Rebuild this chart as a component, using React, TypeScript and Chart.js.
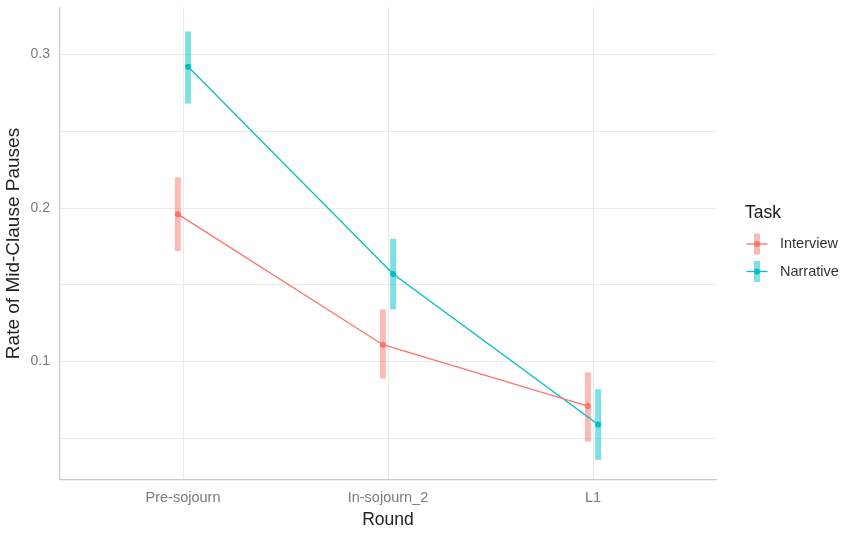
import React, { useEffect, useRef } from "react";
import { Chart, registerables } from "chart.js";
Chart.register(...registerables);

const rounds = ["Pre-sojourn", "In-sojourn_2", "L1"];
const tasks = ["Interview", "Narrative"];
const interviewMean = [0.196, 0.111, 0.071];
const interviewLower = [0.172, 0.089, 0.048];
const interviewUpper = [0.22, 0.134, 0.093];
const narrativeMean = [0.292, 0.157, 0.059];
const narrativeLower = [0.268, 0.134, 0.036];
const narrativeUpper = [0.315, 0.18, 0.082];
const yTicks = [0.05, 0.1, 0.15, 0.2, 0.25, 0.3];
const yLabeled = [0.1, 0.2, 0.3];

const colors = ["#F8766D", "#00BFC4"];
const barColors = ["rgba(248,118,109,0.5)", "rgba(0,191,196,0.5)"];
const dodge = 0.025;
const FONT = "'Liberation Sans', Arial, sans-serif";

const means = [interviewMean, narrativeMean];
const lowers = [interviewLower, narrativeLower];
const uppers = [interviewUpper, narrativeUpper];
const offsets = [-dodge, dodge];

const errorBarPlugin = {
  id: "errorBars",
  beforeDatasetsDraw(chart: any) {
    const ctx = chart.ctx;
    const xs = chart.scales.x;
    const ys = chart.scales.y;
    ctx.save();
    tasks.forEach((_, s) => {
      ctx.fillStyle = barColors[s];
      rounds.forEach((_, i) => {
        const x = xs.getPixelForValue(i + offsets[s]);
        const y1 = ys.getPixelForValue(uppers[s][i]);
        const y2 = ys.getPixelForValue(lowers[s][i]);
        ctx.fillRect(x - 3, y1, 6, y2 - y1);
      });
    });
    ctx.restore();
  },
};

const legendPlugin = {
  id: "ggLegend",
  afterDraw(chart: any) {
    const ctx = chart.ctx;
    ctx.save();
    ctx.fillStyle = "#1a1a1a";
    ctx.font = `17.5px ${FONT}`;
    ctx.textAlign = "left";
    ctx.textBaseline = "middle";
    ctx.fillText("Task", 745, 213);
    const ys = [244, 271.5];
    tasks.forEach((t, s) => {
      const cx = 757;
      const cy = ys[s];
      ctx.fillStyle = barColors[s];
      ctx.fillRect(cx - 3, cy - 10.5, 6, 21);
      ctx.strokeStyle = colors[s];
      ctx.lineWidth = 1.3;
      ctx.beginPath();
      ctx.moveTo(cx - 10.5, cy);
      ctx.lineTo(cx + 10.5, cy);
      ctx.stroke();
      ctx.fillStyle = colors[s];
      ctx.beginPath();
      ctx.arc(cx, cy, 3, 0, Math.PI * 2);
      ctx.fill();
      ctx.fillStyle = "#333333";
      ctx.font = `14.5px ${FONT}`;
      ctx.fillText(t, 780, cy);
    });
    ctx.restore();
  },
};

export default function App() {
  const ref = useRef<HTMLCanvasElement>(null);
  useEffect(() => {
    if (!ref.current) return;
    const chart = new Chart(ref.current, {
      type: "line",
      data: {
        datasets: tasks.map((t, s) => ({
          label: t,
          data: rounds.map((_, i) => ({ x: i + offsets[s], y: means[s][i] })),
          borderColor: colors[s],
          backgroundColor: colors[s],
          borderWidth: 1.3,
          pointRadius: 3,
          pointBorderWidth: 0,
          pointHoverRadius: 3,
          tension: 0,
          fill: false,
        })),
      },
      options: {
        responsive: false,
        animation: false,
        devicePixelRatio: 1,
        layout: { padding: { top: 7.5, right: 127, left: 0, bottom: 0 } },
        plugins: { legend: { display: false }, tooltip: { enabled: false } },
        scales: {
          x: {
            type: "linear",
            min: -0.6,
            max: 2.6,
            afterBuildTicks: (scale: any) => {
              scale.ticks = rounds.map((_, i) => ({ value: i }));
            },
            afterFit: (scale: any) => {
              scale.height = 53.5;
              scale.paddingLeft = 0;
              scale.paddingRight = 0;
            },
            ticks: {
              callback: (v: any) => rounds[Math.round(v)] ?? "",
              color: "#7a7a7a",
              font: { family: FONT, size: 14.5 },
              padding: 10,
              maxRotation: 0,
              autoSkip: false,
            },
            grid: { color: "#ebebeb", lineWidth: 1, drawTicks: false },
            border: { color: "#c8c8c8", width: 1.2 },
            title: {
              display: true,
              text: "Round",
              color: "#222222",
              font: { family: FONT, size: 17.5 },
              padding: { top: 0, bottom: 2 },
            },
          },
          y: {
            type: "linear",
            min: 0.0232,
            max: 0.3306,
            afterBuildTicks: (scale: any) => {
              scale.ticks = yTicks.map((v) => ({ value: v }));
            },
            afterFit: (scale: any) => {
              scale.width = 60;
              scale.paddingTop = 0;
              scale.paddingBottom = 0;
            },
            ticks: {
              callback: (v: any) =>
                yLabeled.some((l) => Math.abs(l - v) < 1e-9) ? Number(v).toFixed(1) : "",
              color: "#7a7a7a",
              font: { family: FONT, size: 14 },
              padding: 10,
              autoSkip: false,
            },
            grid: { color: "#ebebeb", lineWidth: 1, drawTicks: false },
            border: { color: "#c8c8c8", width: 1.2 },
            title: {
              display: true,
              text: "Rate of Mid-Clause Pauses",
              color: "#222222",
              font: { family: FONT, size: 19 },
              padding: { top: 2, bottom: 0 },
            },
          },
        },
      },
      plugins: [errorBarPlugin, legendPlugin],
    } as any);
    return () => chart.destroy();
  }, []);
  return (
    <div style={{ position: "absolute", left: 0, top: 0, width: 843, height: 533, background: "#fff" }}>
      <canvas ref={ref} width={843} height={533} style={{ display: "block" }} />
    </div>
  );
}
